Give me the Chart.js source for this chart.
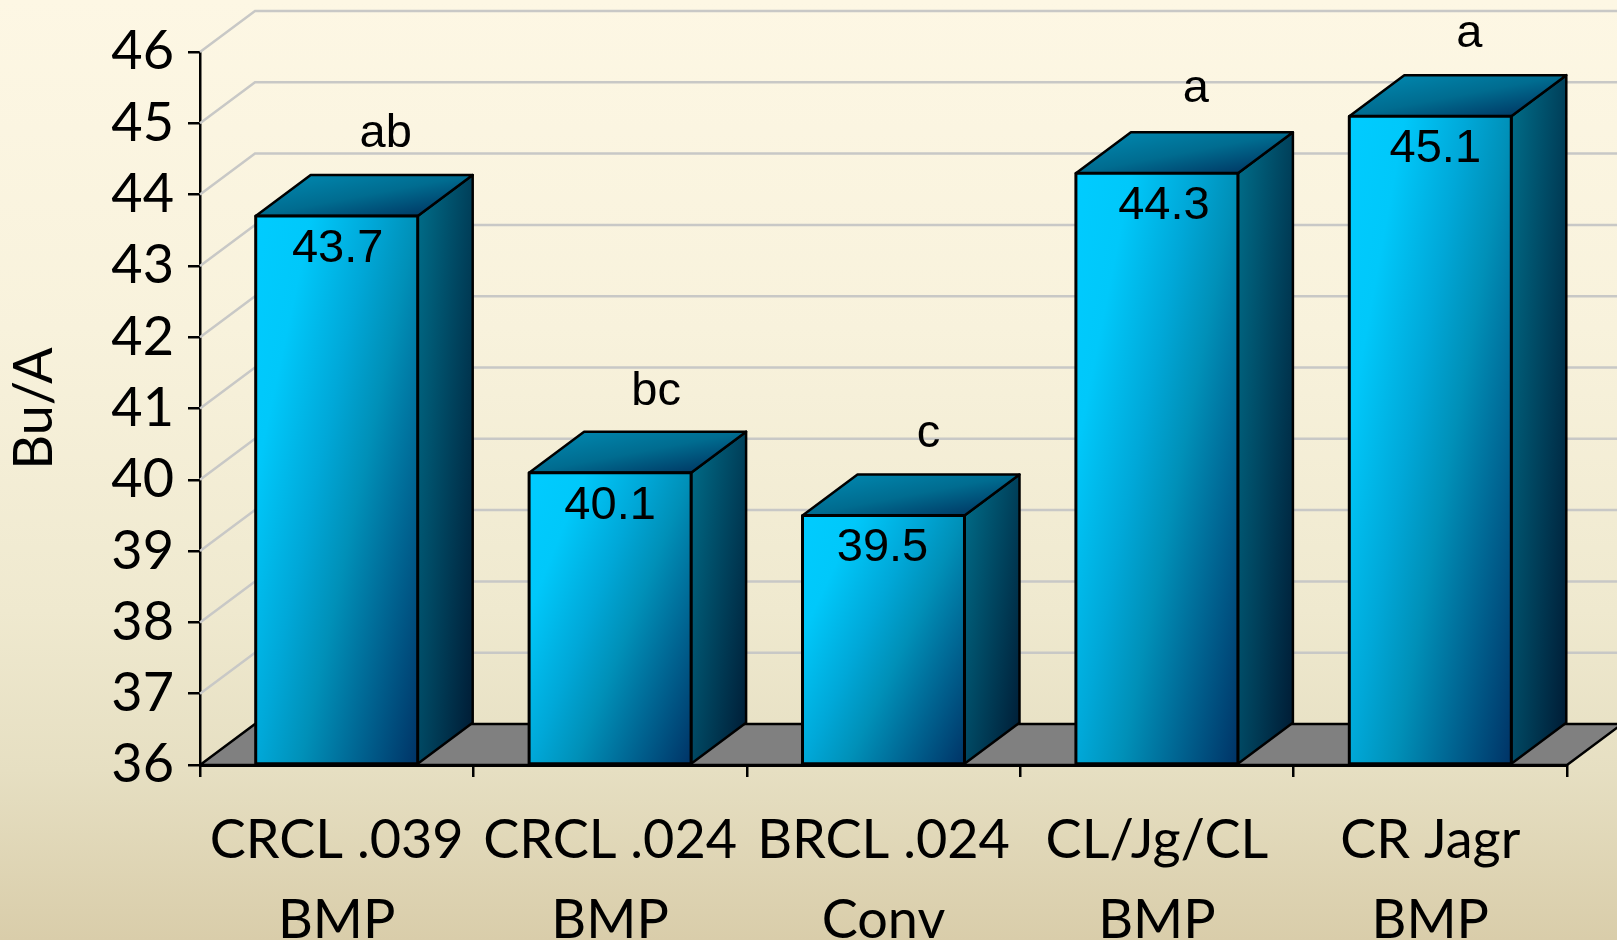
<!DOCTYPE html>
<html>
<head>
<meta charset="utf-8">
<title>Bu/A</title>
<script src="https://cdn.jsdelivr.net/npm/chart.js@4"></script>
<style>
    html, body { margin: 0; padding: 0; }
    #wrap {
        width: 1617px;
        height: 940px;
        overflow: hidden;
        background: linear-gradient(180deg, #fdf7e4 0%, #f8f2dc 35%, #efe9cf 65%, #e6dfc2 82%, #d9cdaa 100%);
    }
    canvas { display: block; }
</style>
</head>
<body>
<div id="wrap"><canvas id="myChart" width="1617" height="940"></canvas></div>
<script>
const categories = [['CRCL .039', 'BMP'], ['CRCL .024', 'BMP'], ['BRCL .024', 'Conv'], ['CL/Jg/CL', 'BMP'], ['CR Jagr', 'BMP']];
const yields = [43.7, 40.1, 39.5, 44.3, 45.1];
const letters = ['ab', 'bc', 'c', 'a', 'a'];
const axisMin = 36;
const axisMax = 46;

// how far the 3D box recedes
const DEPTH_X = 55;
const DEPTH_Y = 41;
const BAR_SHARE = 0.5925;
// the labels do not sit on a fixed spot over the box
const letterNudge = [49, 46, 45, 39, 39];
const letterLift = [28, 27, 27, 30, 28];
const valueNudge = [1, 0, -1, 7, 5];

const AXIS_FONT = 'Lato';
const LABEL_FONT = '"Liberation Sans"';

// gradient over a box, weights a/b say how much x and y count
function boxGradient(c, left, top, width, height, a, b, stops) {
    const nx = a / width;
    const ny = b / height;
    const len = nx * nx + ny * ny;
    const g = c.createLinearGradient(left, top, left + nx / len, top + ny / len);
    stops.forEach(s => g.addColorStop(s[0], s[1]));
    return g;
}

function polygon(c, pts, fill, stroke, lineWidth) {
    c.beginPath();
    pts.forEach((p, i) => i ? c.lineTo(p[0], p[1]) : c.moveTo(p[0], p[1]));
    c.closePath();
    if (fill) {
        c.fillStyle = fill;
        c.fill();
    }
    if (stroke) {
        c.strokeStyle = stroke;
        c.lineWidth = lineWidth;
        c.lineJoin = 'round';
        c.stroke();
    }
}

const frontStops = [[0, '#00ccff'], [0.2, '#00c8fa'], [0.42, '#00a8d8'], [0.58, '#0090b8'], [1, '#003366']];
const sideStops = [[0, '#006e8a'], [1, '#001a33']];
const topStops = [[0, '#008cb4'], [0.5, '#006c90'], [1, '#002a58']];

const walls3d = {
    id: 'walls3d',
    beforeDatasetsDraw(chart) {
        const c = chart.ctx;
        const y = chart.scales.y;
        const area = chart.chartArea;
        const base = y.getPixelForValue(axisMin);

        c.save();
        // back wall lines
        c.strokeStyle = '#c8c8c6';
        c.lineWidth = 2.5;
        for (let v = axisMin + 1; v <= axisMax; v++) {
            const py = y.getPixelForValue(v);
            c.beginPath();
            c.moveTo(area.left, py);
            c.lineTo(area.left + DEPTH_X, py - DEPTH_Y);
            c.lineTo(chart.width, py - DEPTH_Y);
            c.stroke();
        }

        // floor
        polygon(c, [
            [area.left, base],
            [area.left + DEPTH_X, base - DEPTH_Y],
            [area.right + DEPTH_X, base - DEPTH_Y],
            [area.right, base]
        ], '#808080', '#000', 2.5);

        // top and side of every bar, the front comes from the dataset
        chart.getDatasetMeta(0).data.forEach(bar => {
            const left = bar.x - bar.width / 2;
            const right = bar.x + bar.width / 2;
            const top = bar.y;
            const bottom = bar.base;

            polygon(c, [
                [right, top],
                [right + DEPTH_X, top - DEPTH_Y],
                [right + DEPTH_X, bottom - DEPTH_Y],
                [right, bottom]
            ], boxGradient(c, right, top - DEPTH_Y, DEPTH_X, bottom - top + DEPTH_Y, 0.55, 0.45, sideStops), '#000', 2.5);

            polygon(c, [
                [left, top],
                [left + DEPTH_X, top - DEPTH_Y],
                [right + DEPTH_X, top - DEPTH_Y],
                [right, top]
            ], boxGradient(c, left, top - DEPTH_Y, bar.width + DEPTH_X, DEPTH_Y, 0.5, 0.5, topStops), '#000', 2.5);
        });
        c.restore();
    },
    afterDatasetsDraw(chart) {
        const c = chart.ctx;
        c.save();
        chart.getDatasetMeta(0).data.forEach(bar => {
            // outline centred on the face edge, a bar border would sit inside it
            polygon(c, [
                [bar.x - bar.width / 2, bar.y],
                [bar.x + bar.width / 2, bar.y],
                [bar.x + bar.width / 2, bar.base],
                [bar.x - bar.width / 2, bar.base]
            ], null, '#000', 3);
        });
        c.fillStyle = '#000';
        c.font = '47px ' + LABEL_FONT;
        c.textAlign = 'center';
        c.textBaseline = 'alphabetic';
        chart.getDatasetMeta(0).data.forEach((bar, i) => {
            c.fillText(yields[i].toFixed(1), bar.x + valueNudge[i], bar.y + 46);
            c.fillText(letters[i], bar.x + letterNudge[i], bar.y - DEPTH_Y - letterLift[i]);
        });
        c.restore();
    }
};

const ctx = document.getElementById('myChart').getContext('2d');

new Chart(ctx, {
    type: 'bar',
    data: {
        labels: categories,
        datasets: [{
            data: yields,
            base: axisMin,
            barPercentage: BAR_SHARE,
            categoryPercentage: 1,
            borderWidth: 0,
            backgroundColor: (context) => {
                const chart = context.chart;
                const i = context.dataIndex;
                if (i === undefined || !chart.chartArea) {
                    return '#00a0d0';
                }
                const { x, y } = chart.scales;
                const width = x.width / categories.length * BAR_SHARE;
                const top = y.getPixelForValue(yields[i]);
                const bottom = y.getPixelForValue(axisMin);
                return boxGradient(chart.ctx, x.getPixelForValue(i) - width / 2, top, width, bottom - top, 0.58, 0.42, frontStops);
            }
        }]
    },
    options: {
        responsive: false,
        animation: false,
        layout: { autoPadding: false, padding: { top: 52, right: 50, left: 0, bottom: 0 } },
        plugins: { legend: { display: false }, tooltip: { enabled: false } },
        scales: {
            x: {
                afterFit: (scale) => { scale.height = 175; },
                grid: { offset: true, drawOnChartArea: false, color: '#000', lineWidth: 2.5, tickLength: 12 },
                border: { color: '#000', width: 3, z: 1 },
                ticks: {
                    color: '#000',
                    padding: 23,
                    maxRotation: 0,
                    autoSkip: false,
                    font: { family: AXIS_FONT, size: 54, lineHeight: 1.49 }
                }
            },
            y: {
                min: axisMin,
                max: axisMax,
                afterFit: (scale) => { scale.width = 200; },
                title: {
                    display: true,
                    text: 'Bu/A',
                    color: '#000',
                    padding: { top: 5, bottom: 0 },
                    font: { family: AXIS_FONT, size: 54, lineHeight: 1.1 }
                },
                grid: { drawOnChartArea: false, color: '#000', lineWidth: 2.5, tickLength: 12 },
                border: { color: '#000', width: 2.5 },
                ticks: {
                    stepSize: 1,
                    color: '#000',
                    padding: 14,
                    font: { family: AXIS_FONT, size: 54 }
                }
            }
        }
    },
    plugins: [walls3d]
});
</script>
</body>
</html>
